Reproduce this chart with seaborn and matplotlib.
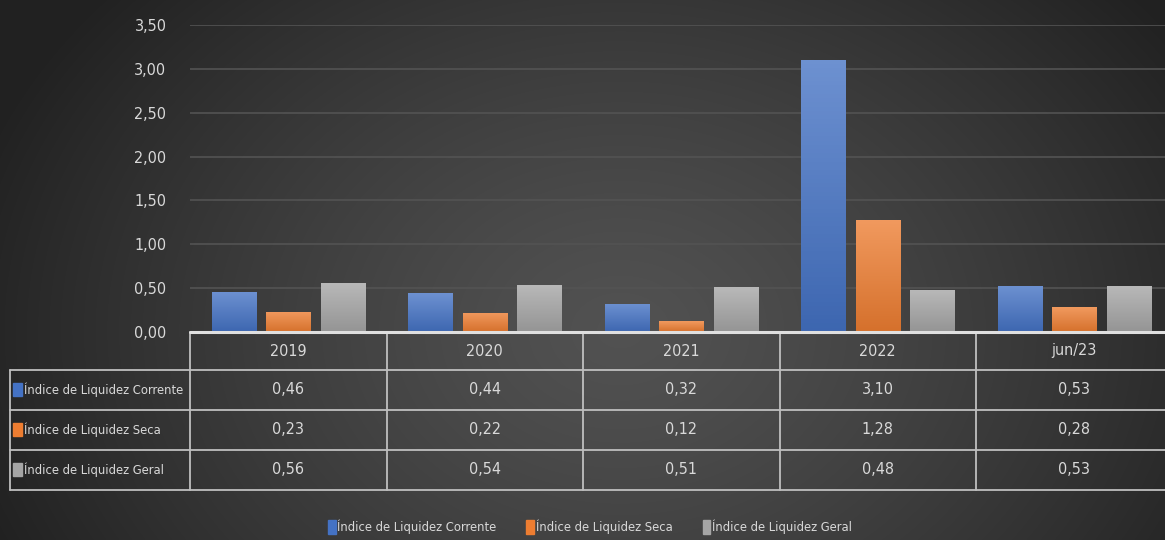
import numpy as np
import pandas as pd
import seaborn as sns
import matplotlib.pyplot as plt
from matplotlib.patches import Rectangle
from matplotlib.lines import Line2D
from matplotlib.ticker import FuncFormatter

# data
periods = ["2019", "2020", "2021", "2022", "jun/23"]
series = ["Índice de Liquidez Corrente", "Índice de Liquidez Seca", "Índice de Liquidez Geral"]
corrente = [0.46, 0.44, 0.32, 3.10, 0.53]
seca = [0.23, 0.22, 0.12, 1.28, 0.28]
geral = [0.56, 0.54, 0.51, 0.48, 0.53]
colors = ["#4472C4", "#ED7D31", "#A5A5A5"]

values = [corrente, seca, geral]
df = pd.DataFrame({
    "periodo": periods * 3,
    "serie": [s for s in series for _ in periods],
    "valor": corrente + seca + geral,
})

W, H = 1165, 540
sns.set_theme(style="dark")
plt.rcParams["font.family"] = ["DejaVu Sans"]
plt.rcParams["font.stretch"] = "condensed"
txt = "#d9d9d9"
line_c = "#bfbfbf"
fs = 11.5     # numbers
fs_lab = 9.3  # long labels

def fx(x):
    return x / W

def fy(y):
    return 1 - y / H

fig = plt.figure(figsize=(W / 100, H / 100), dpi=100)

# radial background
bg = fig.add_axes([0, 0, 1, 1], zorder=-10)
yy, xx = np.mgrid[0:H, 0:W]
r = np.sqrt(((xx - 620) / 680.0) ** 2 + ((yy - 330) / 520.0) ** 2)
r = np.clip(r, 0, 1)
c0, c1 = 0.32, 0.13
img = c0 + (c1 - c0) * r ** 1.3
bg.imshow(np.dstack([img] * 3), aspect="auto", extent=[0, 1, 0, 1])
bg.axis("off")

ax = fig.add_axes([fx(190), fy(332), (1172.5 - 190) / W, (332 - 25) / H])
ax.patch.set_alpha(0)
sns.barplot(data=df, x="periodo", y="valor", hue="serie", order=periods,
            hue_order=series, palette=colors, width=0.832, gap=0.19,
            saturation=1, linewidth=0, edgecolor="none", ax=ax, zorder=3)

# vertical gradient on bars
for p in ax.patches:
    if p.get_height() <= 0:
        continue
    base = np.array(p.get_facecolor()[:3])
    top = base + (1 - base) * 0.22
    bot = base * 0.9
    t = np.linspace(0, 1, 64)[:, None]
    grad = top[None, :] * (1 - t) + bot[None, :] * t
    x0, w = p.get_x(), p.get_width()
    im = ax.imshow(grad[:, None, :], extent=[x0, x0 + w, 0, p.get_height()],
                   aspect="auto", zorder=4)
    im.set_clip_path(p)

ax.set_xlim(-0.5, 4.5)
ax.set_ylim(0, 3.5)
ax.set_yticks(np.arange(0, 3.51, 0.5))
ax.yaxis.set_major_formatter(FuncFormatter(lambda v, _: f"{v:.2f}".replace(".", ",")))
ax.tick_params(axis="y", length=0, pad=17, labelsize=fs, labelcolor=txt)
ax.set_xticks([])
ax.set_xlabel("")
ax.set_ylabel("")
ax.grid(axis="y", color="#535353", linewidth=1.2)
ax.grid(axis="x", visible=False)
for s in ax.spines.values():
    s.set_visible(False)
ax.get_legend().remove()

# data table
col_w = 196.5
rows_y = [332, 370, 410, 450, 490]
lw = 1.3
fig.add_artist(Line2D([fx(190), 1], [fy(332)] * 2, color="#e0e0e0", lw=2.2, zorder=5))
for yv in rows_y[1:]:
    fig.add_artist(Line2D([fx(10), 1], [fy(yv)] * 2, color=line_c, lw=lw))
fig.add_artist(Line2D([fx(10)] * 2, [fy(370), fy(490)], color=line_c, lw=lw))
for i in range(5):
    xv = 190 + col_w * i
    fig.add_artist(Line2D([fx(xv)] * 2, [fy(332), fy(490)], color=line_c, lw=lw))

for i, per in enumerate(periods):
    cx = 190 + col_w * (i + 0.5)
    fig.text(fx(cx), fy(351), per, ha="center", va="center", fontsize=fs, color=txt)
    for j, vals in enumerate(values):
        cy = (rows_y[j + 1] + rows_y[j + 2]) / 2
        fig.text(fx(cx), fy(cy), f"{vals[i]:.2f}".replace(".", ","),
                 ha="center", va="center", fontsize=fs, color=txt)

for j, name in enumerate(series):
    cy = (rows_y[j + 1] + rows_y[j + 2]) / 2
    fig.add_artist(Rectangle((fx(13), fy(cy + 6)), 9 / W, 13 / H,
                             color=colors[j], transform=fig.transFigure))
    fig.text(fx(24), fy(cy), name, ha="left", va="center", fontsize=fs_lab, color=txt)

# legend
handles = [Rectangle((0, 0), 1, 1, color=c) for c in colors]
fig.legend(handles, series, loc="center", bbox_to_anchor=(fx(590), fy(527)),
           ncol=3, frameon=False, fontsize=fs_lab, labelcolor=txt,
           handlelength=0.6, handleheight=1.2, handletextpad=0.15,
           columnspacing=2.3)

fig.savefig("out.png", dpi=100)
